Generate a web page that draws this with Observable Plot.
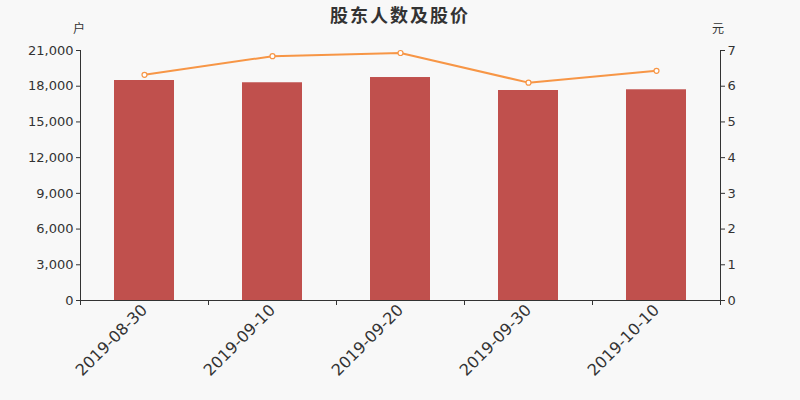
<!DOCTYPE html>
<html><head><meta charset="utf-8">
<script src="https://cdn.jsdelivr.net/npm/d3@7"></script>
<script src="https://cdn.jsdelivr.net/npm/@observablehq/plot@0.6"></script>
<style>
html,body{margin:0;padding:0;background:#f8f8f8;}
#wrap{position:relative;width:800px;height:400px;font-family:"DejaVu Sans","Noto Sans CJK SC",sans-serif;}
#title{position:absolute;left:0;top:1px;width:800px;text-align:center;font-size:18px;font-weight:bold;color:#333;font-family:"Noto Sans CJK SC",sans-serif;letter-spacing:2px;}
.unit{position:absolute;top:19px;font-size:12px;color:#333;font-family:"Noto Sans CJK SC",sans-serif;}
</style></head>
<body><div id="wrap"><div id="title">股东人数及股价</div><div class="unit" style="left:73px">户</div><div class="unit" style="left:712px">元</div></div>
<script>
const dates = ["2019-08-30","2019-09-10","2019-09-20","2019-09-30","2019-10-10"];
const holders = [18480, 18290, 18730, 17640, 17700];
const prices = [6.32, 6.84, 6.93, 6.10, 6.43];
const leftTicks = [0,3000,6000,9000,12000,15000,18000,21000];
const rightTicks = [0,1,2,3,4,5,6,7];
const ratio = 3000;

const rows = dates.map((d,i)=>({date:d, holders:holders[i], price:prices[i]}));
const last = dates[dates.length-1];

const chart = Plot.plot({
  width: 800, height: 400,
  marginLeft: 80, marginRight: 80, marginTop: 50, marginBottom: 100,
  style: {background: "#f8f8f8", color: "#333", fontSize: "13px", fontFamily: "DejaVu Sans, sans-serif"},
  x: {domain: dates, padding: 0, label: null},
  y: {domain: [0, 21000], label: null},
  marks: [
    Plot.barY(rows, {x: "date", y: "holders", fill: "#c0504d", insetLeft: 34, insetRight: 34}),
    Plot.ruleY([0], {stroke: "#333"}),
    Plot.ruleX([dates[0]], {dx: -64, y1: 0, y2: 21000, stroke: "#333"}),
    Plot.ruleX([last], {dx: 64, y1: 0, y2: 21000, stroke: "#333"}),
    Plot.axisY({anchor: "left", ticks: leftTicks, tickFormat: d3.format(","), tickSize: 4, tickPadding: 3, label: null, fontSize: 13}),
    Plot.axisY({anchor: "right", ticks: leftTicks, tickFormat: d => rightTicks[leftTicks.indexOf(d)], tickSize: 4, tickPadding: 3, label: null, fontSize: 13}),
    Plot.axisX({ticks: dates, tickSize: 0, tickRotate: -45, tickPadding: 7, fontSize: 16, label: null}),
    Plot.axisX({ticks: dates, tickSize: 5, tickFormat: () => "", dx: -64, label: null}),
    Plot.axisX({ticks: [last], tickSize: 5, tickFormat: () => "", dx: 64, label: null}),
    Plot.line(rows, {x: "date", y: d => d.price * ratio, stroke: "#f79646", strokeWidth: 2}),
    Plot.dot(rows, {x: "date", y: d => d.price * ratio, r: 2.5, fill: "white", stroke: "#f79646", strokeWidth: 1.2})
  ]
});
document.getElementById("wrap").appendChild(chart);
</script>
</body></html>
